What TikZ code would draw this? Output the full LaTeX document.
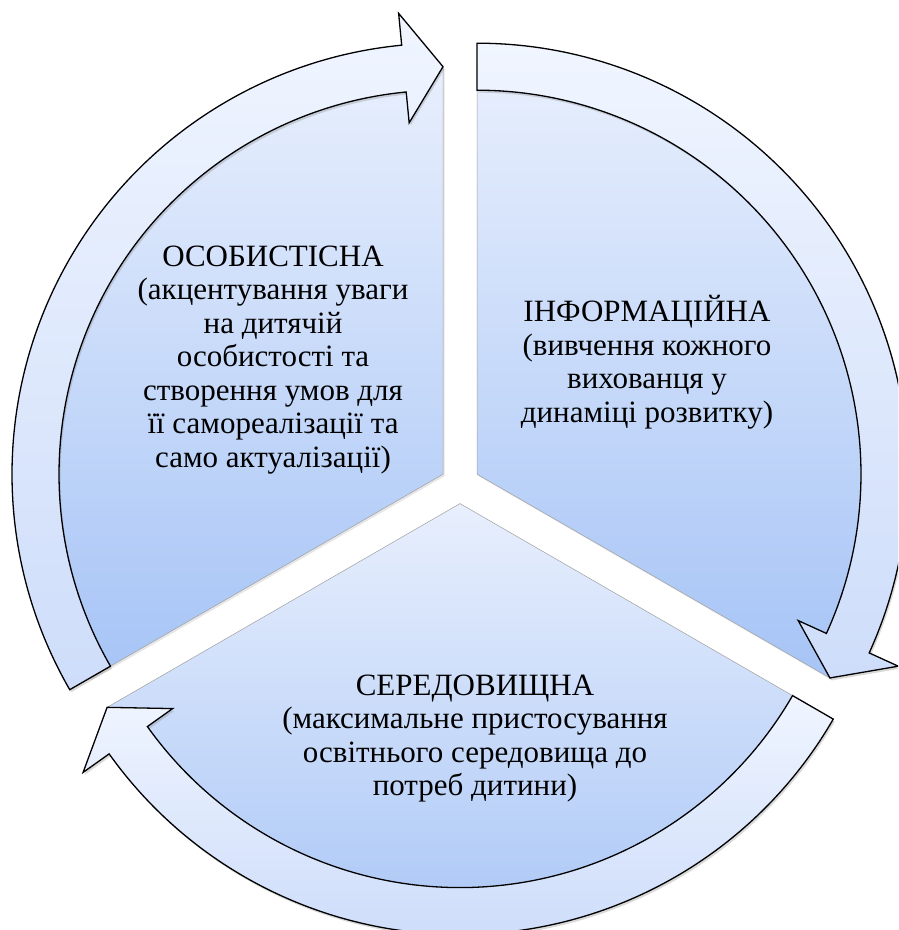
\documentclass[tikz,border=0pt]{standalone}
\usepackage{fontspec}
\setmainfont{Liberation Serif}
\usetikzlibrary{shadows}
\definecolor{sectop}{RGB}{232,239,253}
\definecolor{secbot}{RGB}{166,196,246}
\definecolor{bandtop}{RGB}{240,245,255}
\definecolor{bandbot}{RGB}{206,221,250}

\tikzset{
  sector/.style={draw=gray!75, line width=0.5pt, top color=sectop, bottom color=secbot,
    drop shadow={opacity=0.2, shadow xshift=1.5pt, shadow yshift=-2pt}},
  cyclearrow/.style={draw=black, line width=1.3pt, line join=miter, top color=bandtop, bottom color=bandbot,
    drop shadow={opacity=0.3, shadow xshift=1.5pt, shadow yshift=-2.5pt}},
  sectortext/.style={align=center, font=\fontsize{31}{33.5}\selectfont}
}

\begin{document}
\begin{tikzpicture}[x=1pt, y=1pt]
  \useasboundingbox (0,0) rectangle (898,930);
  \clip (0,0) rectangle (898,930);
  \def\rout{431}
  \def\rin{384}
  \def\rmid{407.5}
  \def\hout{463}
  \def\hin{353}
  % centres of the three segments
  \coordinate (cl) at (443,455.8);
  \coordinate (cr) at (477,455.8);
  \coordinate (cb) at (460,426.4);
  % segments
  \draw[sector] (cl) -- ++(90:\rmid) arc[start angle=90, end angle=210, radius=\rmid] -- cycle;
  \draw[sector] (cr) -- ++(-30:\rmid) arc[start angle=-30, end angle=90, radius=\rmid] -- cycle;
  \draw[sector] (cb) -- ++(210:\rmid) arc[start angle=210, end angle=330, radius=\rmid] -- cycle;
  % left arrow
  \draw[cyclearrow, shift={(cl)}] (210:\rout) arc[start angle=210, end angle=95.5, radius=\rout]
    -- (95.5:\hout) -- (90:\rmid) -- (95.5:\hin) -- (95.5:\rin)
    arc[start angle=95.5, end angle=210, radius=\rin] -- cycle;
  % right arrow
  \draw[cyclearrow, shift={(cr)}] (90:\rout) arc[start angle=90, end angle=-24.5, radius=\rout]
    -- (-24.5:\hout) -- (-30:\rmid) -- (-24.5:\hin) -- (-24.5:\rin)
    arc[start angle=-24.5, end angle=90, radius=\rin] -- cycle;
  % bottom arrow
  \draw[cyclearrow, shift={(cb)}] (-30:\rout) arc[start angle=-30, end angle=-144.5, radius=\rout]
    -- (-144.5:\hout) -- (-150:\rmid) -- (-144.5:\hin) -- (-144.5:\rin)
    arc[start angle=-144.5, end angle=-30, radius=\rin] -- cycle;
  % labels
  \node[sectortext] (osob) at (273,570) {ОСОБИСТІСНА\\(акцентування уваги\\на дитячій\\особистості та\\створення умов для\\її самореалізації та\\само актуалізації)};
  \node[sectortext] (inform) at (647,568) {ІНФОРМАЦІЙНА\\(вивчення кожного\\вихованця у\\динаміці розвитку)};
  \node[sectortext] (sered) at (475,191.5) {СЕРЕДОВИЩНА\\(максимальне пристосування\\освітнього середовища до\\потреб дитини)};
\end{tikzpicture}
\end{document}
